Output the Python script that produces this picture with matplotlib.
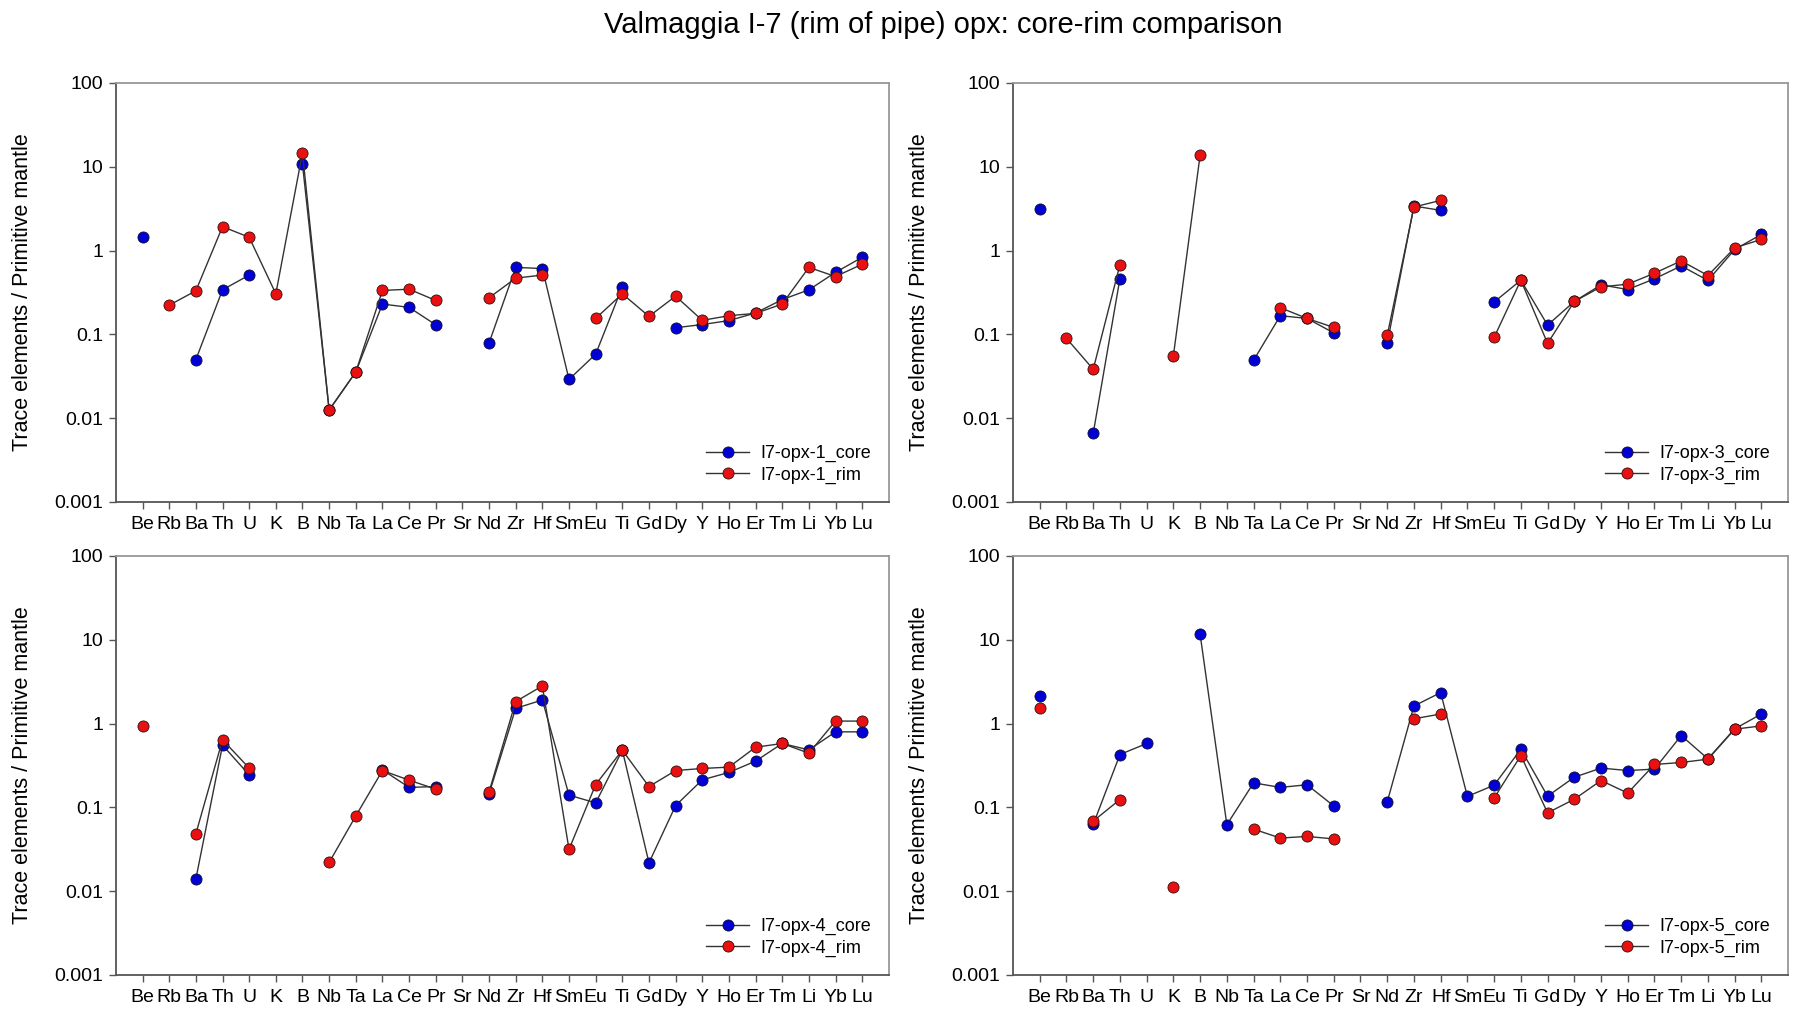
import numpy as np
import matplotlib
matplotlib.use('Agg')
import matplotlib.pyplot as plt

plt.rcParams.update({
    'font.family': ['Liberation Sans Narrow', 'Liberation Sans', 'DejaVu Sans'],
    'font.size': 14,
})

nan = np.nan
elements = ['Be', 'Rb', 'Ba', 'Th', 'U', 'K', 'B', 'Nb', 'Ta', 'La', 'Ce', 'Pr', 'Sr', 'Nd',
            'Zr', 'Hf', 'Sm', 'Eu', 'Ti', 'Gd', 'Dy', 'Y', 'Ho', 'Er', 'Tm', 'Li', 'Yb', 'Lu']

opx1_core = [1.44, nan, 0.050, 0.34, 0.51, nan, 10.7, 0.0125, 0.0356, 0.23, 0.21, 0.13, nan, 0.079,
             0.63, 0.61, 0.029, 0.058, 0.37, nan, 0.12, 0.131, 0.146, 0.18, 0.26, 0.34, 0.55, 0.83]
opx1_rim = [nan, 0.223, 0.331, 1.93, 1.44, 0.305, 14.7, 0.0125, 0.0356, 0.334, 0.346, 0.254, nan, 0.273,
            0.469, 0.51, nan, 0.155, 0.305, 0.164, 0.286, 0.147, 0.167, 0.178, 0.23, 0.63, 0.49, 0.687]

opx3_core = [3.16, nan, 0.0066, 0.464, nan, nan, nan, nan, 0.049, 0.167, 0.155, 0.104, nan, 0.078,
             3.4, 3.02, nan, 0.243, 0.443, 0.129, 0.247, 0.39, 0.343, 0.46, 0.656, 0.44, 1.03, 1.56]
opx3_rim = [nan, 0.0896, 0.0383, 0.68, nan, 0.0557, 13.8, nan, nan, 0.208, 0.155, 0.121, nan, 0.097,
            3.31, 3.97, nan, 0.092, 0.443, 0.078, 0.247, 0.369, 0.397, 0.537, 0.753, 0.504, 1.076, 1.36]

opx4_core = [nan, nan, 0.014, 0.552, 0.244, nan, nan, nan, nan, 0.28, 0.173, 0.177, nan, 0.145,
             1.52, 1.91, 0.14, 0.113, 0.481, 0.0218, 0.105, 0.213, 0.261, 0.356, 0.578, 0.485, 0.796, 0.796]
opx4_rim = [0.946, nan, 0.0484, 0.64, 0.294, nan, nan, 0.022, 0.079, 0.275, 0.211, 0.165, nan, 0.153,
            1.83, 2.81, 0.0315, 0.187, 0.481, 0.177, 0.275, 0.291, 0.302, 0.522, 0.578, 0.443, 1.07, 1.07]

opx5_core = [2.14, nan, 0.0625, 0.427, 0.578, nan, 11.6, 0.062, 0.196, 0.173, 0.186, 0.104, nan, 0.116,
             1.62, 2.34, 0.135, 0.184, 0.494, 0.136, 0.229, 0.294, 0.275, 0.286, 0.719, 0.379, 0.864, 1.30]
opx5_rim = [1.55, nan, 0.0685, 0.124, nan, 0.0112, nan, nan, 0.055, 0.043, 0.045, 0.042, nan, nan,
            1.14, 1.30, nan, 0.129, 0.415, 0.086, 0.125, 0.209, 0.148, 0.325, 0.343, 0.376, 0.856, 0.938]

panels = [
    ('I7-opx-1', opx1_core, opx1_rim),
    ('I7-opx-3', opx3_core, opx3_rim),
    ('I7-opx-4', opx4_core, opx4_rim),
    ('I7-opx-5', opx5_core, opx5_rim),
]

C_CORE = '#0000d4'
C_RIM = '#e81010'
LINE = '#333333'

fig = plt.figure(figsize=(18, 10.28), dpi=100)
rects = [
    (0.0644, 0.5117, 0.4294, 0.4076),
    (0.5628, 0.5117, 0.4306, 0.4076),
    (0.0644, 0.0516, 0.4294, 0.4076),
    (0.5628, 0.0516, 0.4306, 0.4076),
]

x = np.arange(len(elements))
for rect, (name, core, rim) in zip(rects, panels):
    ax = fig.add_axes(rect)
    ax.plot(x, core, '-o', color=LINE, lw=1.0, ms=8, mfc=C_CORE, mec='#101030', mew=0.6,
            label=f'{name}_core')
    ax.plot(x, rim, '-o', color=LINE, lw=1.0, ms=8, mfc=C_RIM, mec='#301010', mew=0.6,
            label=f'{name}_rim')
    ax.set_yscale('log')
    ax.set_ylim(0.001, 100)
    ax.set_xlim(-1, 28)
    ax.set_xticks(x)
    ax.set_xticklabels(elements)
    ax.set_yticks([0.001, 0.01, 0.1, 1, 10, 100])
    ax.set_yticklabels(['0.001', '0.01', '0.1', '1', '10', '100'])
    ax.minorticks_off()
    ax.tick_params(axis='x', length=5, width=1, color='#555555', pad=5, labelsize=14)
    ax.tick_params(axis='y', length=5, width=1, color='#555555', pad=4, labelsize=14)
    ax.set_ylabel('Trace elements / Primitive mantle', fontsize=15.5)
    ax.yaxis.set_label_coords(-0.107, 0.5)
    for s in ['left', 'bottom']:
        ax.spines[s].set_color('#555555')
        ax.spines[s].set_linewidth(1.3)
    for s in ['top', 'right']:
        ax.spines[s].set_color('#999999')
        ax.spines[s].set_linewidth(1.3)
    ax.legend(loc='lower right', frameon=False, fontsize=13, handlelength=2.4,
              handletextpad=0.6, labelspacing=0.25, borderaxespad=0.6)

fig.text(0.524, 0.976, 'Valmaggia I-7 (rim of pipe) opx: core-rim comparison',
         ha='center', va='center', fontsize=21)

fig.savefig('out.png', dpi=100)
